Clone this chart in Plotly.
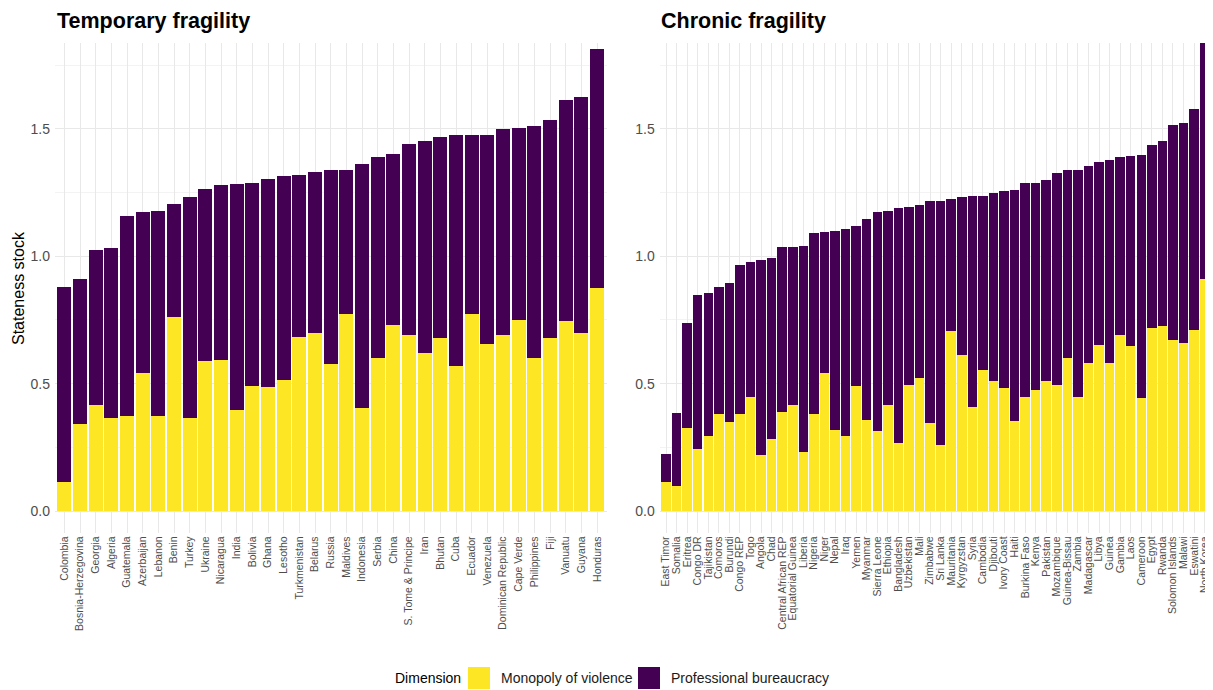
import plotly.graph_objects as go

# ---- data ----
temp_countries = [
    "Colombia", "Bosnia-Herzegovina", "Georgia", "Algeria", "Guatemala", "Azerbaijan",
    "Lebanon", "Benin", "Turkey", "Ukraine", "Nicaragua", "India", "Bolivia", "Ghana",
    "Lesotho", "Turkmenistan", "Belarus", "Russia", "Maldives", "Indonesia", "Serbia",
    "China", "S. Tome & Principe", "Iran", "Bhutan", "Cuba", "Ecuador", "Venezuela",
    "Dominican Republic", "Cape Verde", "Philippines", "Fiji", "Vanuatu", "Guyana", "Honduras",
]
temp_violence = [
    0.113, 0.340, 0.418, 0.365, 0.372, 0.541, 0.372, 0.763, 0.365, 0.589, 0.592, 0.397,
    0.492, 0.486, 0.513, 0.685, 0.700, 0.576, 0.772, 0.403, 0.599, 0.732, 0.690, 0.622,
    0.681, 0.571, 0.774, 0.656, 0.691, 0.751, 0.602, 0.678, 0.745, 0.698, 0.874,
]
temp_bureaucracy = [
    0.768, 0.571, 0.606, 0.666, 0.788, 0.634, 0.805, 0.444, 0.868, 0.677, 0.689, 0.886,
    0.795, 0.818, 0.804, 0.633, 0.632, 0.762, 0.566, 0.958, 0.791, 0.669, 0.750, 0.831,
    0.788, 0.904, 0.701, 0.819, 0.809, 0.754, 0.911, 0.859, 0.870, 0.929, 0.939,
]

chron_countries = [
    "East Timor", "Somalia", "Eritrea", "Congo DR", "Tajikistan", "Comoros", "Burundi",
    "Congo REP", "Togo", "Angola", "Chad", "Central African REP", "Equatorial Guinea",
    "Liberia", "Nigeria", "Niger", "Nepal", "Iraq", "Yemen", "Myanmar", "Sierra Leone",
    "Ethiopia", "Bangladesh", "Uzbekistan", "Mali", "Zimbabwe", "Sri Lanka", "Mauritania",
    "Kyrgyzstan", "Syria", "Cambodia", "Djibouti", "Ivory Coast", "Haiti", "Burkina Faso",
    "Kenya", "Pakistan", "Mozambique", "Guinea-Bissau", "Zambia", "Madagascar", "Libya",
    "Guinea", "Gambia", "Laos", "Cameroon", "Egypt", "Rwanda", "Solomon Islands", "Malawi",
    "Eswatini", "North Korea",
]
chron_violence = [
    0.115, 0.098, 0.325, 0.242, 0.296, 0.382, 0.348, 0.380, 0.449, 0.219, 0.281, 0.389,
    0.415, 0.233, 0.382, 0.542, 0.317, 0.293, 0.490, 0.357, 0.313, 0.416, 0.268, 0.496,
    0.521, 0.344, 0.259, 0.705, 0.611, 0.408, 0.555, 0.512, 0.482, 0.352, 0.448, 0.474,
    0.510, 0.496, 0.602, 0.448, 0.582, 0.652, 0.582, 0.690, 0.648, 0.445, 0.717, 0.725,
    0.670, 0.658, 0.712, 0.912,
]
chron_bureaucracy = [
    0.110, 0.286, 0.413, 0.605, 0.561, 0.496, 0.546, 0.585, 0.530, 0.768, 0.714, 0.646,
    0.623, 0.809, 0.710, 0.552, 0.784, 0.813, 0.629, 0.790, 0.861, 0.763, 0.920, 0.699,
    0.682, 0.872, 0.960, 0.520, 0.621, 0.828, 0.682, 0.735, 0.776, 0.910, 0.839, 0.814,
    0.790, 0.830, 0.736, 0.892, 0.771, 0.718, 0.796, 0.700, 0.747, 0.954, 0.719, 0.727,
    0.844, 0.867, 0.867, 0.960,
]

YELLOW = "#FDE725"
PURPLE = "#440154"
FONT = "Liberation Sans, Arial, sans-serif"
# the page body has an 8px margin, so the figure is 8px smaller and positions
# below are given in screen pixels, shifted back by that offset
OFF = 8
W, H = 1213 - OFF, 690 - OFF


def px_x(p):
    return (p - OFF) / W


def px_y(p):
    return 1 - (p - OFF) / H


fig = go.Figure()
for xa, ya, cats, vio, bur in [
    ("x", "y", temp_countries, temp_violence, temp_bureaucracy),
    ("x2", "y2", chron_countries, chron_violence, chron_bureaucracy),
]:
    fig.add_trace(go.Bar(x=cats, y=vio, name="Monopoly of violence", marker_color=YELLOW,
                         marker_line_width=0, xaxis=xa, yaxis=ya, showlegend=False))
    fig.add_trace(go.Bar(x=cats, y=bur, name="Professional bureaucracy", marker_color=PURPLE,
                         marker_line_width=0, xaxis=xa, yaxis=ya, showlegend=False))

y_bottom, y_top = px_y(533.3), px_y(43)
xcommon = dict(
    type="category", tickmode="linear", tick0=0, dtick=1,
    showgrid=True, gridcolor="#e8e8e8", gridwidth=1.2, zeroline=False,
    showline=False, ticks="", tickangle=-90, tickfont=dict(size=10.5, color="#4d4d4d", family=FONT),
    automargin=False,
)
ycommon = dict(
    range=[-0.0875, 1.8375], dtick=0.5, tick0=0, tickformat=".1f", showgrid=True,
    gridcolor="#e8e8e8", gridwidth=1.2, zeroline=False, showline=False, ticks="",
    tickfont=dict(size=14, color="#4d4d4d", family=FONT), ticklabelstandoff=4,
    minor=dict(dtick=0.25, tick0=0, showgrid=True, gridcolor="#f3f3f3", gridwidth=0.7),
    automargin=False, domain=[y_bottom, y_top],
)
fig.update_layout(
    xaxis=dict(xcommon, domain=[px_x(55), px_x(606.5)], range=[-0.6, len(temp_countries) - 0.4]),
    xaxis2=dict(xcommon, domain=[px_x(659.7), min(1.0, px_x(1211))],
                range=[-0.6, len(chron_countries) - 0.4]),
    yaxis=dict(ycommon, anchor="x"),
    yaxis2=dict(ycommon, anchor="x2"),
    barmode="stack",
    bargap=0.1,
    width=W,
    height=H,
    margin=dict(l=0, r=0, t=0, b=0),
    plot_bgcolor="white",
    paper_bgcolor="white",
    font=dict(family=FONT, color="#1a1a1a"),
)

annotations = [
    dict(text="<b>Temporary fragility</b>", x=px_x(55), y=px_y(21), xanchor="left", yanchor="middle",
         font=dict(size=21.5, color="black")),
    dict(text="<b>Chronic fragility</b>", x=px_x(659), y=px_y(21), xanchor="left", yanchor="middle",
         font=dict(size=21.5, color="black")),
    dict(text="Stateness stock", x=px_x(18), y=px_y(288), textangle=-90, xanchor="center",
         yanchor="middle", font=dict(size=16, color="black")),
    # legend
    dict(text="Dimension", x=px_x(393), y=px_y(678), xanchor="left", yanchor="middle",
         font=dict(size=14, color="black")),
    dict(text="Monopoly of violence", x=px_x(499), y=px_y(678), xanchor="left", yanchor="middle",
         font=dict(size=14, color="#1a1a1a")),
    dict(text="Professional bureaucracy", x=px_x(669), y=px_y(678), xanchor="left", yanchor="middle",
         font=dict(size=14, color="#1a1a1a")),
]
for a in annotations:
    a.update(xref="paper", yref="paper", showarrow=False)
fig.update_layout(annotations=annotations)

for x0, color in [(468, YELLOW), (638, PURPLE)]:
    fig.add_shape(type="rect", xref="paper", yref="paper",
                  x0=px_x(x0), x1=px_x(x0 + 22), y0=px_y(689), y1=px_y(667),
                  fillcolor=color, line=dict(width=0))

fig.write_html("out.html")
